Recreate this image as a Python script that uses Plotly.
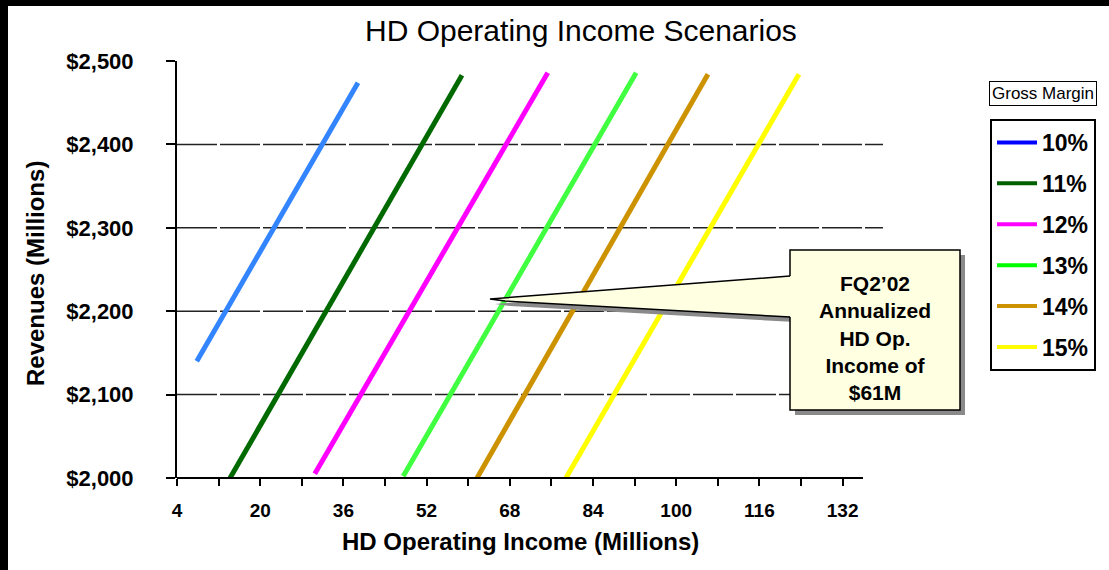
import plotly.graph_objects as go

# Gross-margin scenarios: revenue (millions) vs HD operating income (millions)
margins = ["10%", "11%", "12%", "13%", "14%", "15%"]
income_start = [7.8, 14.2, 30.5, 47.5, 61.7, 78.8]
income_end = [38.8, 58.8, 75.3, 92.3, 106.1, 123.6]
revenue_start = [2140, 2000, 2005, 2002, 2000, 2000]
revenue_end = [2474, 2483, 2486, 2486, 2484, 2484]

line_colors = ["#3384FF", "#006A00", "#FF00FF", "#40FF40", "#CC9200", "#FFFF00"]
legend_colors = ["#0000FF", "#006000", "#FF00FF", "#00FF00", "#CC9200", "#FFFF00"]

x_tick_values = [4, 12, 20, 28, 36, 44, 52, 60, 68, 76, 84, 92, 100, 108, 116, 124, 132]
x_tick_labels = ["4", "", "20", "", "36", "", "52", "", "68", "", "84", "", "100", "", "116", "", "132"]
y_tick_values = [2000, 2100, 2200, 2300, 2400, 2500]
y_tick_labels = ["$2,000", "$2,100", "$2,200", "$2,300", "$2,400", "$2,500"]
grid_values = [2100, 2200, 2300, 2400]

callout_text = "FQ2\u201902<br>Annualized<br>HD Op.<br>Income of<br>$61M"

# Figure geometry (pixels)
FW, FH = 1109, 570
L, R, T, B = 177, 883, 61, 478
PW, PH = R - L, B - T


def fx(p):
    return (p - L) / PW


def fy(p):
    return (B - p) / PH


SANS = "Liberation Sans, Arial, sans-serif"

fig = go.Figure()

for i, m in enumerate(margins):
    fig.add_trace(go.Scatter(
        x=[income_start[i], income_end[i]],
        y=[revenue_start[i], revenue_end[i]],
        mode="lines",
        line=dict(color=line_colors[i], width=5),
        name=m,
        showlegend=False,
        hoverinfo="skip",
    ))

# legend entries
for i, m in enumerate(margins):
    fig.add_trace(go.Scatter(
        x=[None], y=[None], mode="lines",
        line=dict(color=legend_colors[i], width=4),
        name=m, legendgroup=m, showlegend=True,
    ))

shapes = []
# dashed gridlines
for g in grid_values:
    shapes.append(dict(type="line", xref="paper", yref="y", x0=0, x1=1, y0=g, y1=g,
                       line=dict(color="#222222", width=1.5, dash="40px,3px"), layer="below"))
# x axis line (stops short of the right edge of the grid)
shapes.append(dict(type="line", xref="paper", yref="paper", x0=0, x1=fx(863), y0=0, y1=0,
                   line=dict(color="black", width=2)))

# callout: shadows, box, pointer
sx, sy = 5, 5
wedge = [(790, 276), (490, 299), (505, 301), (790, 317)]


def path(points, close=True):
    d = "M " + " L ".join(f"{fx(a):.5f},{fy(b):.5f}" for a, b in points)
    return d + (" Z" if close else "")


shapes.append(dict(type="path", xref="paper", yref="paper",
                   path=path([(a + sx, b + sy) for a, b in wedge]),
                   fillcolor="#8a8a8a", line=dict(width=0)))
shapes.append(dict(type="rect", xref="paper", yref="paper",
                   x0=fx(790 + sx), x1=fx(960 + sx), y0=fy(250 + sy), y1=fy(410 + sy),
                   fillcolor="#8a8a8a", line=dict(width=0)))
shapes.append(dict(type="rect", xref="paper", yref="paper",
                   x0=fx(790), x1=fx(960), y0=fy(250), y1=fy(410),
                   fillcolor="#FFFFE1", line=dict(color="black", width=1.5)))
shapes.append(dict(type="path", xref="paper", yref="paper",
                   path=path([(792, 276), (490, 299), (505, 301), (792, 317)]),
                   fillcolor="#FFFFE1", line=dict(width=0)))
shapes.append(dict(type="path", xref="paper", yref="paper",
                   path=path(wedge, close=False),
                   fillcolor="rgba(0,0,0,0)", line=dict(color="black", width=1.5)))

# black frame on the top and left edges
shapes.append(dict(type="rect", xref="paper", yref="paper",
                   x0=fx(0), x1=fx(8), y0=fy(FH), y1=fy(0),
                   fillcolor="black", line=dict(width=0)))
shapes.append(dict(type="rect", xref="paper", yref="paper",
                   x0=fx(0), x1=fx(FW), y0=fy(6), y1=fy(0),
                   fillcolor="black", line=dict(width=0)))

annotations = [
    dict(text="HD Operating Income Scenarios", xref="paper", yref="paper",
         x=fx(581), y=fy(30), xanchor="center", yanchor="middle", showarrow=False,
         font=dict(family=SANS, size=30, color="black")),
    dict(text="HD Operating Income (Millions)", xref="paper", yref="paper",
         x=fx(520), y=fy(541), xanchor="center", yanchor="middle", showarrow=False,
         font=dict(family=SANS, size=24, color="black", weight="bold")),
    dict(text="Revenues (Millions)", xref="paper", yref="paper", textangle=-90,
         x=fx(35), y=fy(274), xanchor="center", yanchor="middle", showarrow=False,
         font=dict(family=SANS, size=24, color="black", weight="bold")),
    dict(text="Gross Margin", xref="paper", yref="paper",
         x=fx(1043), y=fy(94), xanchor="center", yanchor="middle", showarrow=False,
         bordercolor="black", borderwidth=1, borderpad=2, bgcolor="white",
         font=dict(family=SANS, size=17, color="black")),
    dict(text=callout_text, xref="paper", yref="paper",
         x=fx(875), y=fy(338), xanchor="center", yanchor="middle", showarrow=False,
         align="center",
         font=dict(family=SANS, size=21, color="black", weight="bold")),
]

fig.update_layout(
    width=FW, height=FH,
    margin=dict(l=L, r=FW - R, t=T, b=FH - B, pad=0),
    paper_bgcolor="white", plot_bgcolor="white",
    showlegend=True,
    legend=dict(x=fx(990), y=fy(119), xanchor="left", yanchor="top",
                bgcolor="white", bordercolor="black", borderwidth=2,
                font=dict(family=SANS, size=23, color="black", weight="bold"),
                tracegroupgap=8, traceorder="grouped", itemwidth=40),
    shapes=shapes,
    annotations=annotations,
    xaxis=dict(range=[4, 4 + PW / 5.2], tickvals=x_tick_values, ticktext=x_tick_labels,
               showgrid=False, zeroline=False, showline=False,
               ticks="outside", ticklen=7, tickwidth=2, tickcolor="black",
               ticklabelstandoff=8,
               tickfont=dict(family=SANS, size=19, color="black", weight="bold")),
    yaxis=dict(range=[2000, 2500], tickvals=y_tick_values, ticktext=y_tick_labels,
               showgrid=False, zeroline=False, showline=True, linecolor="black", linewidth=2,
               ticks="outside", ticklen=9, tickwidth=2, tickcolor="black",
               ticklabelstandoff=28,
               tickfont=dict(family=SANS, size=22, color="black", weight="bold")),
)

fig.write_html("out.html")
